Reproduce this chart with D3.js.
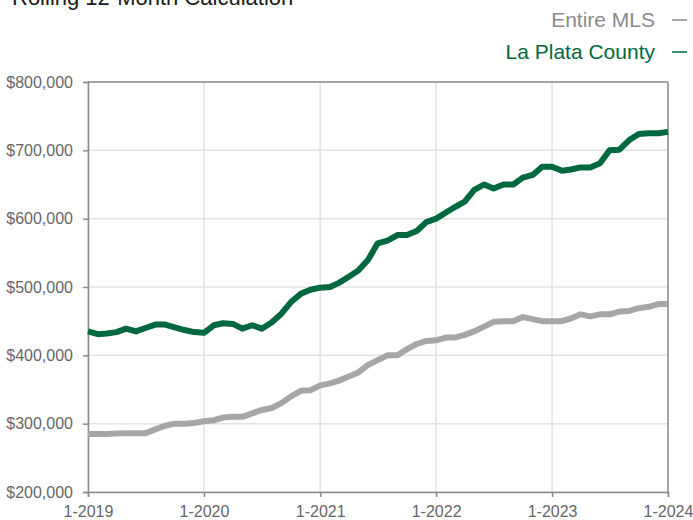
<!DOCTYPE html>
<html>
<head>
<meta charset="utf-8">
<script src="https://cdn.jsdelivr.net/npm/d3@7"></script>
<style>
  body { margin: 0; background: #fff; }
  svg { font-family: "Liberation Sans", Arial, Helvetica, sans-serif; }
</style>
</head>
<body>
<svg id="chart" width="693" height="520"></svg>
<script>
// chart values (rolling 12-month median price), monthly from 1-2019 to 1-2024
var startMonth = new Date(2019, 0, 1);
var laPlata = [435, 431, 432, 434, 439, 435, 440, 445, 445, 441, 437, 434, 433,
  444, 447, 446, 439, 444, 439, 448, 461, 478, 490, 496, 499,
  500, 506, 515, 524, 540, 564, 568, 576, 576, 582, 595, 600,
  609, 617, 625, 642, 650, 644, 650, 650, 660, 664, 676, 676,
  670, 672, 675, 675, 681, 700, 701, 715, 724, 725, 725, 727];
var entireMls = [285, 285, 285, 285.5, 286, 286, 286, 291.7, 297, 300, 300, 301, 303.5,
  305, 309, 310, 310, 315, 320, 323, 330, 340, 348, 349, 356,
  359, 363, 369, 375, 386, 393, 400, 400, 409, 416.6, 421, 422,
  426, 426, 430, 435, 442, 449, 450, 450, 456, 453, 450, 450,
  450, 454, 460, 457, 460, 460, 464, 465, 469, 471, 475, 475];
var yTicks = [200000, 300000, 400000, 500000, 600000, 700000, 800000];
var xTickLabels = ["1-2019", "1-2020", "1-2021", "1-2022", "1-2023", "1-2024"];
var seriesNames = ["Entire MLS", "La Plata County"];
var seriesColors = ["#a6a6a6", "#00683f"];

var svg = d3.select("#chart");
var margin = {left: 88, right: 25, top: 82, bottom: 28};
var width = 693 - margin.left - margin.right;
var height = 520 - margin.top - margin.bottom;

var dates = laPlata.map(function(d, i) { return d3.timeMonth.offset(startMonth, i); });
var yearDates = xTickLabels.map(function(d, i) { return d3.timeYear.offset(startMonth, i); });

var x = d3.scaleTime().domain([dates[0], dates[dates.length - 1]]).range([0, width]);
var y = d3.scaleLinear().domain([200000, 800000]).range([height, 0]);

// title (cut off at the top edge)
svg.append("text")
  .attr("x", 12).attr("y", 5)
  .attr("font-size", 22).attr("fill", "#1a1a1a")
  .text("Rolling 12-Month Calculation");

// legend
seriesNames.forEach(function(name, i) {
  var yy = 27 + i * 32;
  svg.append("text")
    .attr("x", 655).attr("y", yy)
    .attr("text-anchor", "end")
    .attr("font-size", 21)
    .attr("fill", i == 0 ? "#8a8a8a" : seriesColors[1])
    .text(name);
  svg.append("line")
    .attr("x1", 672).attr("x2", 687)
    .attr("y1", yy - 7).attr("y2", yy - 7)
    .attr("stroke", i == 0 ? "#8a8a8a" : seriesColors[1])
    .attr("stroke-width", 1.5);
});

var g = svg.append("g").attr("transform", "translate(" + margin.left + "," + margin.top + ")");

// gridlines
g.append("g").selectAll("line").data(yTicks).join("line")
  .attr("x1", 0).attr("x2", width)
  .attr("y1", function(d) { return y(d); }).attr("y2", function(d) { return y(d); })
  .attr("stroke", "#e2e2e2").attr("stroke-width", 1.5);
g.append("g").selectAll("line").data(yearDates).join("line")
  .attr("y1", 0).attr("y2", height)
  .attr("x1", function(d) { return x(d); }).attr("x2", function(d) { return x(d); })
  .attr("stroke", "#e2e2e2").attr("stroke-width", 1.5);

// frame top / right
g.append("line").attr("x1", 0).attr("x2", width).attr("y1", 0).attr("y2", 0)
  .attr("stroke", "#8c8c8c").attr("stroke-width", 1.5);
g.append("line").attr("x1", width).attr("x2", width).attr("y1", 0).attr("y2", height)
  .attr("stroke", "#8c8c8c").attr("stroke-width", 1.5);

// axes
var yAxis = g.append("g")
  .call(d3.axisLeft(y).tickValues(yTicks).tickFormat(d3.format("$,")).tickSize(5).tickPadding(10));
var xAxis = g.append("g").attr("transform", "translate(0," + height + ")")
  .call(d3.axisBottom(x).tickValues(yearDates)
    .tickFormat(function(d, i) { return xTickLabels[i]; }).tickSize(5).tickPadding(9));

[yAxis, xAxis].forEach(function(a) {
  a.select(".domain").attr("stroke", "#8c8c8c").attr("stroke-width", 1.5);
  a.selectAll(".tick line").attr("stroke", "#8c8c8c").attr("stroke-width", 1.5);
  a.selectAll(".tick text").attr("font-size", 16).attr("fill", "#666")
    .attr("font-family", "Liberation Sans, Arial, sans-serif");
});

// lines
var line = d3.line()
  .x(function(d, i) { return x(dates[i]); })
  .y(function(d) { return y(d * 1000); });

[entireMls, laPlata].forEach(function(series, i) {
  g.append("path")
    .datum(series)
    .attr("d", line)
    .attr("fill", "none")
    .attr("stroke", seriesColors[i])
    .attr("stroke-width", 6)
    .attr("stroke-linejoin", "round");
});
</script>
</body>
</html>
